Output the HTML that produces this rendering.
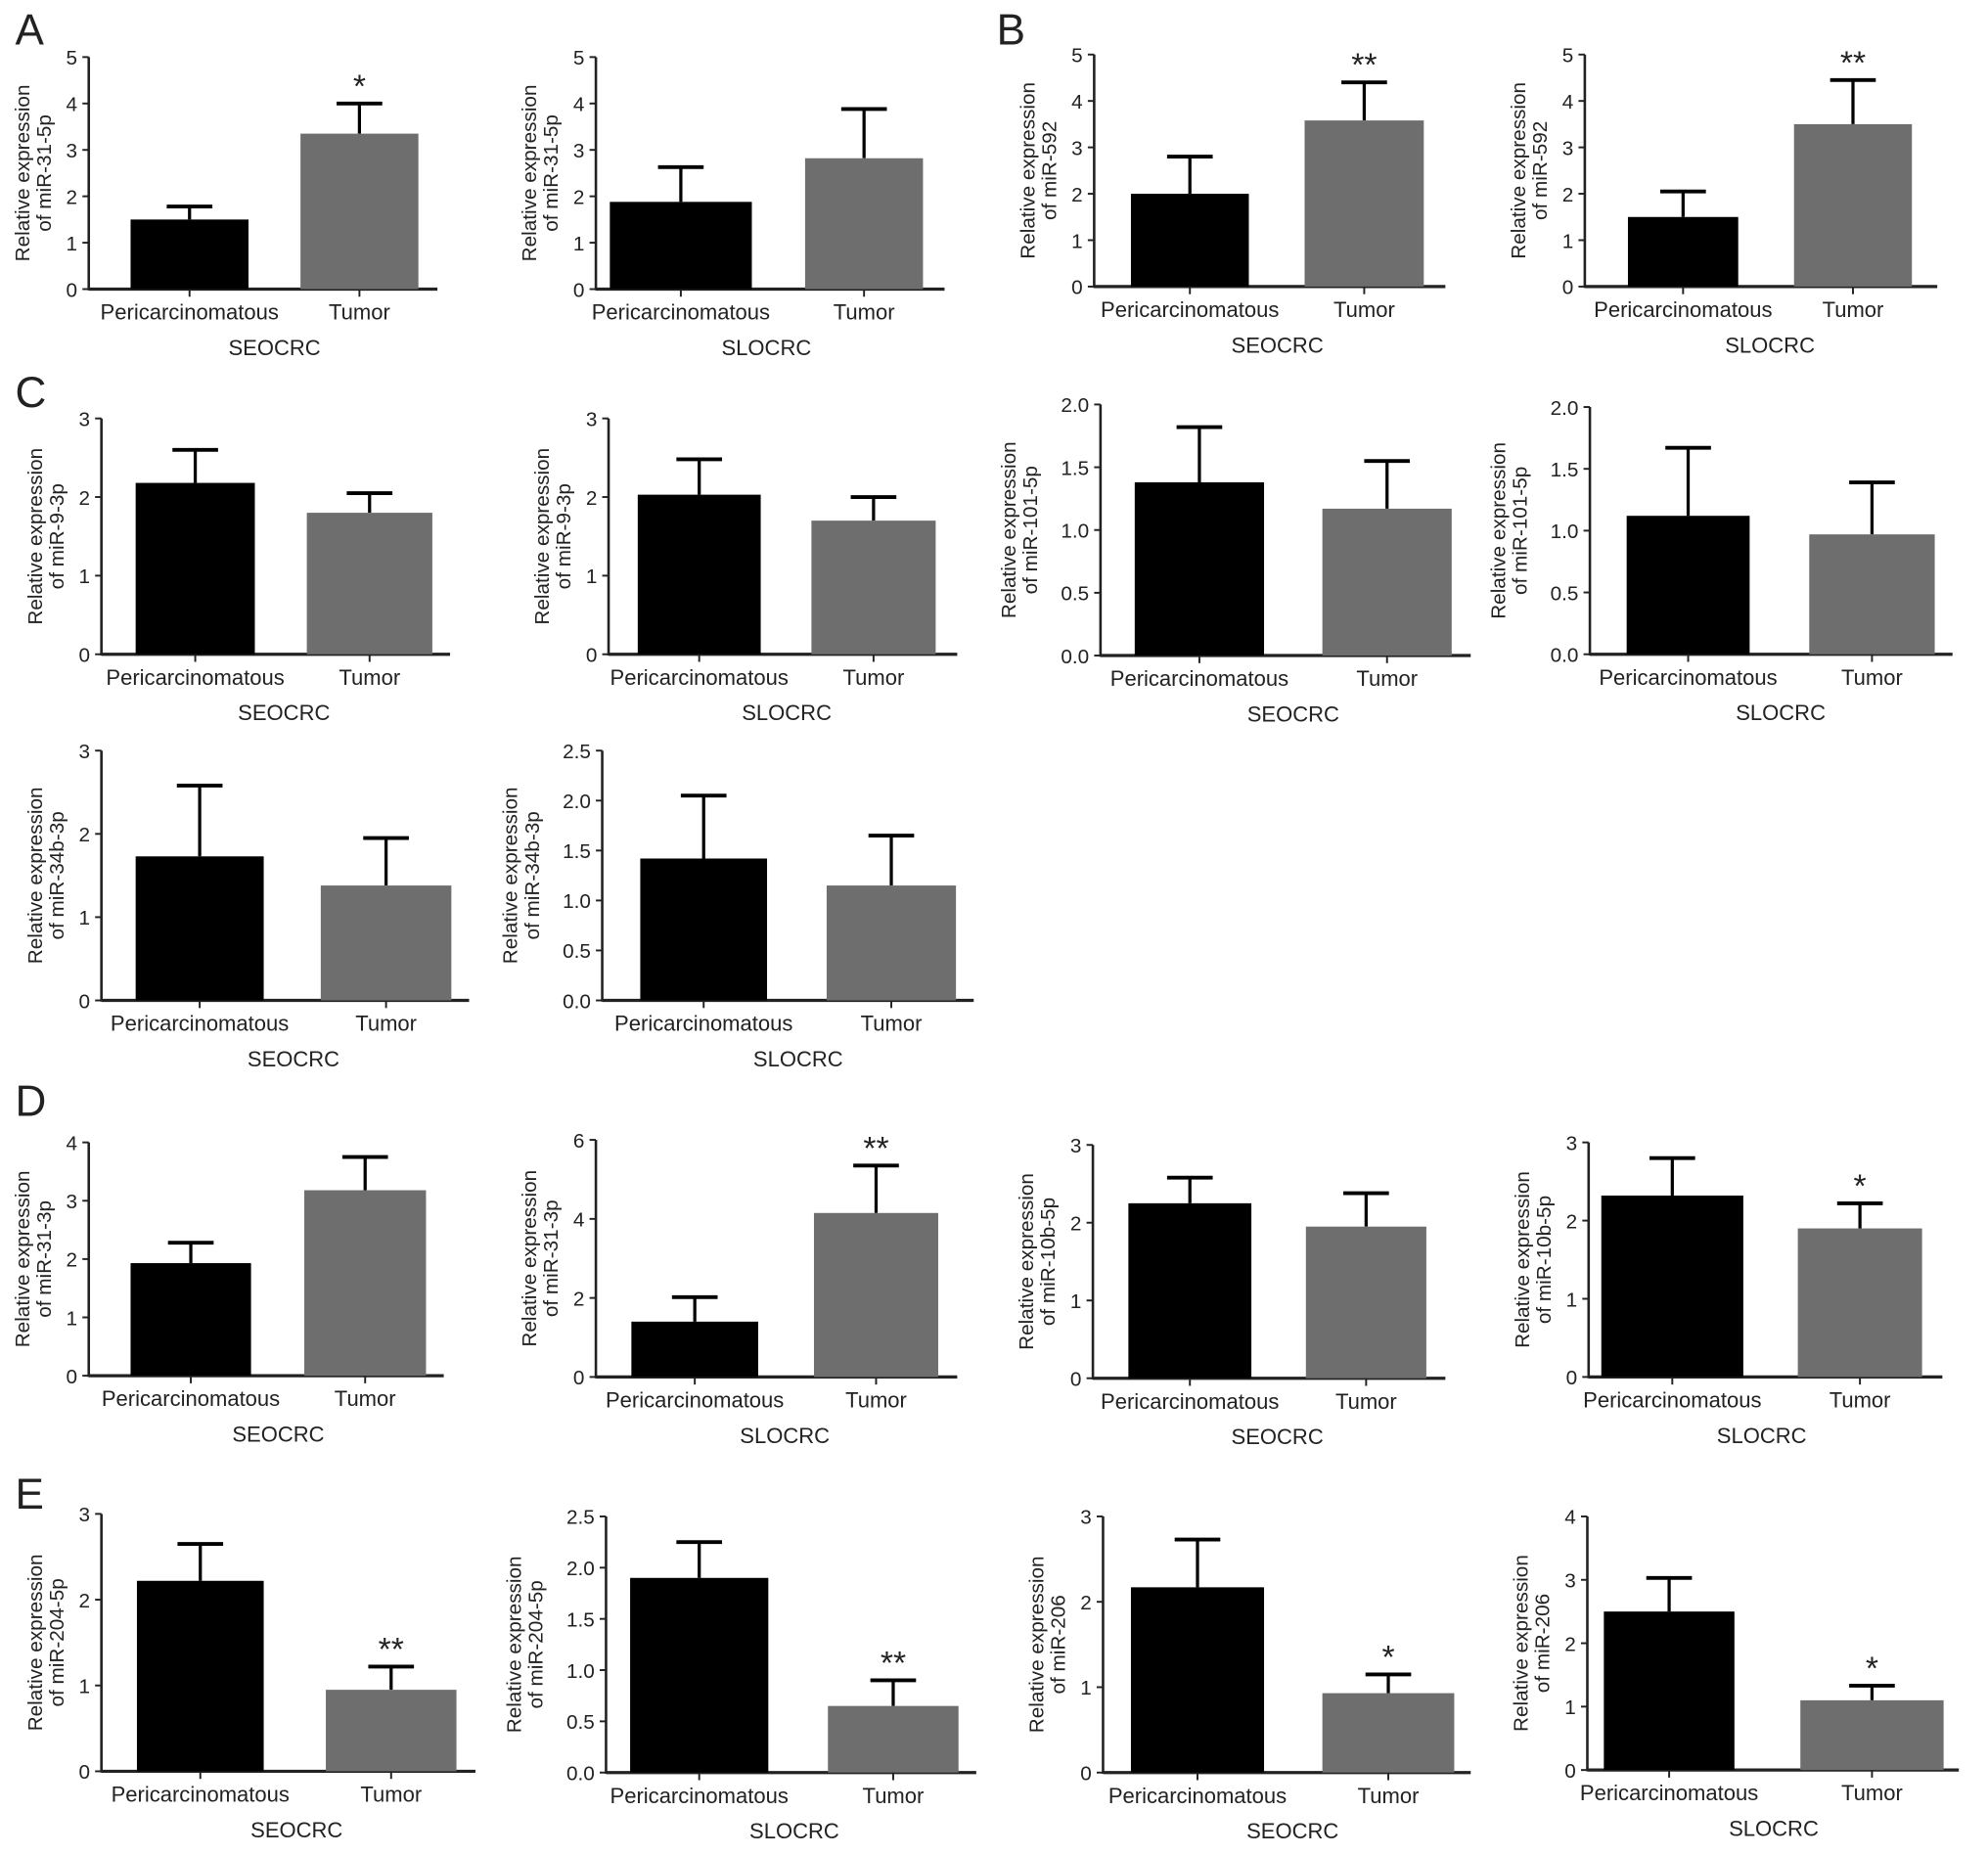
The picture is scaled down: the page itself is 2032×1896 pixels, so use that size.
<!DOCTYPE html>
<html><head><meta charset="utf-8"><style>
html,body{margin:0;padding:0;background:#fff}
svg{display:block}
text{font-family:"Liberation Sans",Arial,sans-serif;fill:#222}
</style></head><body>
<svg id="fig" width="2032" height="1896" viewBox="0 0 1568 1463" xmlns="http://www.w3.org/2000/svg">
<text x="12" y="35" font-size="34">A</text>
<text x="786" y="35" font-size="34">B</text>
<text x="12" y="321" font-size="34">C</text>
<text x="12" y="880" font-size="34">D</text>
<text x="12" y="1190" font-size="34">E</text>
</svg>
<script>
// data
const genes = ["miR-31-5p","miR-31-5p","miR-592","miR-592","miR-9-3p","miR-9-3p","miR-101-5p","miR-101-5p","miR-34b-3p","miR-34b-3p","miR-31-3p","miR-31-3p","miR-10b-5p","miR-10b-5p","miR-204-5p","miR-204-5p","miR-206","miR-206"];
const groups = ["SEOCRC","SLOCRC","SEOCRC","SLOCRC","SEOCRC","SLOCRC","SEOCRC","SLOCRC","SEOCRC","SLOCRC","SEOCRC","SLOCRC","SEOCRC","SLOCRC","SEOCRC","SLOCRC","SEOCRC","SLOCRC"];
const categories = ["Pericarcinomatous","Tumor"];
const pericMean = [1.5,1.88,2.0,1.5,2.18,2.03,1.38,1.12,1.73,1.42,1.93,1.4,2.25,2.32,2.22,1.9,2.17,2.5];
const pericErrTop = [1.78,2.63,2.8,2.05,2.6,2.48,1.82,1.67,2.58,2.05,2.28,2.02,2.58,2.8,2.65,2.25,2.73,3.03];
const tumorMean = [3.35,2.82,3.58,3.5,1.8,1.7,1.17,0.97,1.38,1.15,3.18,4.15,1.95,1.9,0.95,0.65,0.93,1.1];
const tumorErrTop = [4.0,3.88,4.4,4.45,2.05,2.0,1.55,1.39,1.95,1.65,3.75,5.35,2.38,2.22,1.22,0.9,1.15,1.33];
const yMax = [5,5,5,5,3,3,2,2,3,2.5,4,6,3,3,3,2.5,3,4];
const yStep = [1,1,1,1,1,1,0.5,0.5,1,0.5,1,2,1,1,1,0.5,1,1];
const sigLabels = ["*","","**","**","","","","","","","","**","","*","**","**","*","*"];

// layout (display coordinates): axisX, zeroY, topY, xEnd, bar1 [l,r], bar2 [l,r]
const layout = [
 [70,228,45,345,103,196,237,330],
 [470,228,45,745,481,593,635,728],
 [863,226,43,1140,892,985,1029,1123],
 [1250,226,43,1528,1284,1371,1415,1508],
 [80,516,330,355,107,201,242,341],
 [480,516,330,755,503,600,640,738],
 [868,517,319,1160,895,997,1043,1145],
 [1254,516,321,1540,1283,1380,1427,1526],
 [80,789,592,370,107,208,253,356],
 [475,789,592,768,505,605,652,754],
 [70,1085,901,350,103,198,240,336],
 [470,1086,899,755,498,598,642,740],
 [862,1087,903,1140,890,987,1030,1125],
 [1253,1086,901,1532,1263,1375,1418,1516],
 [80,1397,1194,375,108,208,257,360],
 [478,1398,1196,770,497,606,653,756],
 [870,1398,1196,1160,892,997,1043,1147],
 [1252,1396,1196,1545,1265,1368,1420,1533]
];
const NS="http://www.w3.org/2000/svg";
const svg=document.getElementById('fig');
function mk(tag,attrs,parent){const e=document.createElementNS(NS,tag);for(const k in attrs)e.setAttribute(k,attrs[k]);(parent||svg).appendChild(e);return e;}
genes.forEach((g,i)=>{
  const [ax,y0,yt,xe,b1l,b1r,b2l,b2r]=layout[i];
  const grp=mk('g',{});
  
  
  const yS=v=>y0-(v/yMax[i])*(y0-yt);
  const ya=mk('line',{x1:ax,y1:y0+1,x2:ax,y2:yt,stroke:'#222','stroke-width':2},grp);
  
  
  const xa=mk('line',{x1:ax,y1:y0,x2:xe,y2:y0,stroke:'#222','stroke-width':2.5},grp);
  
  
  const dec=yStep[i]<1;
  for(let v=0;v<=yMax[i]+1e-9;v+=yStep[i]){
    const y=yS(v);
    mk('line',{x1:ax-5,y1:y,x2:ax,y2:y,stroke:'#222','stroke-width':1.5},grp);
    const t=mk('text',{x:ax-9,y:y+6,'font-size':16,'text-anchor':'end'},grp);
    t.textContent=dec?v.toFixed(1):String(v);
    
    
  }
  const cy=(y0+yt)/2;
  const off=dec?20:0;
  const yt1=mk('text',{x:0,y:0,'font-size':16,'text-anchor':'middle',transform:`translate(${ax-47-off},${cy}) rotate(-90)`},grp);
  yt1.textContent='Relative expression';
  
  
  const yt2=mk('text',{x:0,y:0,'font-size':16,'text-anchor':'middle',transform:`translate(${ax-30-off},${cy}) rotate(-90)`},grp);
  yt2.textContent='of '+g;
  
  
  const bars=[[b1l,b1r,pericMean[i],pericErrTop[i],'#000'],[b2l,b2r,tumorMean[i],tumorErrTop[i],'#6e6e6e']];
  bars.forEach((b,j)=>{
    const [l,r,m,e,c]=b;const cx=(l+r)/2;
    const yt3=yS(m), ye=yS(e);
    mk('line',{x1:cx,y1:yt3,x2:cx,y2:ye,stroke:'#000','stroke-width':2.5},grp);
    mk('line',{x1:cx-18,y1:ye,x2:cx+18,y2:ye,stroke:'#000','stroke-width':3},grp);
    const rc=mk('rect',{x:l,y:yt3,width:r-l,height:y0-yt3,fill:c},grp);
    
    
    mk('line',{x1:cx,y1:y0,x2:cx,y2:y0+6,stroke:'#222','stroke-width':1.5},grp);
    const lb=mk('text',{x:cx,y:y0+24,'font-size':17,'text-anchor':'middle'},grp);
    lb.textContent=categories[j];
    
    
    if(j===1&&sigLabels[i]){
      const s=mk('text',{x:cx,y:ye-5,'font-size':26,'text-anchor':'middle'},grp);
      s.textContent=sigLabels[i];
      
      
    }
  });
  const gx=(b1l+b2r)/2;
  const gl=mk('text',{x:gx,y:y0+52,'font-size':17,'text-anchor':'middle'},grp);
  gl.textContent=groups[i];
  
  
});
</script>
</body></html>
